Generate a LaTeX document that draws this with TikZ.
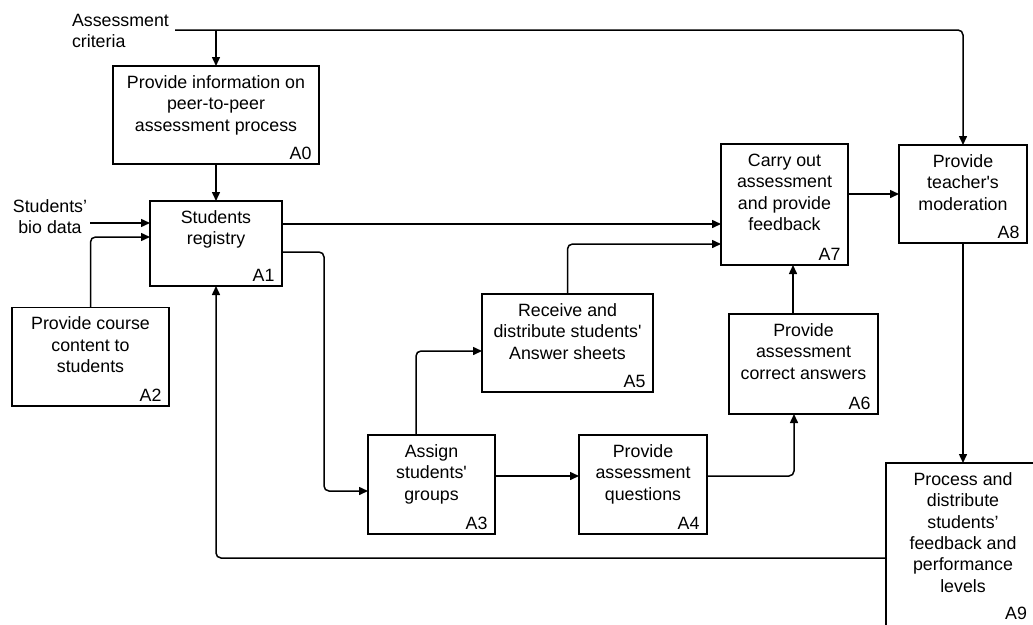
\documentclass[tikz,border=0pt]{standalone}
\usepackage{fontspec}
\setmainfont{Liberation Sans}[Ligatures=TeXOff]
\usetikzlibrary{arrows.meta,calc}

% activity box: name, centre x, centre y, width, height, text
\newcommand{\procframe}[6]{%
  \node[box, minimum width=#4pt, minimum height=#5pt] (#1) at (#2,#3) {};
  \node[boxtext] (#1-text) at ($(#1.north)+(0,7.6)$) {\strut #6};
}
\newcommand{\procbox}[6]{%
  \procframe{#1}{#2}{#3}{#4}{#5}{#6}
  \node[tag] (#1-tag) at ($(#1.south east)+(-7.5,-4.5)$) {#1};
}

\begin{document}
\begin{tikzpicture}[x=1pt,y=-1pt,
  every node/.style={font=\fontsize{17.8}{21.3}\selectfont, inner sep=0pt, outer sep=0pt},
  box/.style={draw, line width=1.5pt},
  boxtext/.style={anchor=north, align=center},
  tag/.style={anchor=base east},
  flow/.style={line width=1.5pt, -{Triangle[length=9pt,width=8pt]}},
  elbow/.style={rounded corners=5pt}]
\clip (0,0) rectangle (1033,624);
\fill[white] (0,0) rectangle (1033,624);

% activities
\procbox{A0}{216}{115}{206}{98}{Provide information on\\peer-to-peer\\assessment process}
\procbox{A1}{216}{243.5}{132}{85}{Students\\registry}
\procbox{A2}{90.5}{356.5}{157}{98.5}{Provide course\\content to\\students}
\procbox{A3}{431.5}{484.5}{127}{99}{Assign\\students'\\groups}
\procbox{A4}{643}{484.5}{128}{99}{Provide\\assessment\\questions}
\procbox{A5}{567.5}{343}{171}{98}{Receive and\\distribute students'\\Answer sheets}
\procbox{A6}{803.5}{364}{149}{100}{Provide\\assessment\\correct answers}
\procbox{A7}{784.5}{204.5}{127}{121}{Carry out\\assessment\\and provide\\feedback}
\procbox{A8}{963}{194}{128}{98}{Provide\\teacher's\\moderation}
% the last box runs past the right and bottom edges
\procframe{A9}{963}{547.5}{154}{169}{Process and\\distribute\\students’\\feedback and\\performance\\levels}
\node[tag] (A9-tag) at (1027,619) {A9};

% external inputs
\node[anchor=north west, align=left] (crit) at (72,11.6) {\strut Assessment\\criteria};
\node[anchor=north, align=center] (bio) at (50,197.4) {\strut Students’\\bio data};
\coordinate (critend) at (175,30);
\coordinate (bioend) at (90,223);

% controls from the assessment criteria
\draw[flow, elbow] (critend) -| (A8.north);
\draw[flow] (A0.north |- critend) -- (A0.north);

% registry inputs
\draw[flow] (A0.south) -- (A1.north);
\draw[flow] (bioend) -- (A1.west |- bioend);
\draw[flow, elbow] (A2.north) |- ($(A1.north west)+(0,36)$);

% registry outputs
\draw[flow] ($(A1.north east)+(0,23)$) -- ($(A7.north west)+(0,80)$);
\draw[flow, elbow] ($(A1.north east)+(0,51)$) -| ($(A3.north west)+(-44,56)$) -- ($(A3.north west)+(0,56)$);

% grouping, questions and answers
\draw[flow, elbow] ($(A3.north west)+(48,0)$) |- ($(A5.north west)+(0,57)$);
\draw[flow] ($(A3.north east)+(0,41)$) -- ($(A4.north west)+(0,41)$);
\draw[flow, elbow] ($(A4.north east)+(0,41)$) -| ($(A6.south west)+(65,0)$);
\draw[flow] ($(A6.north west)+(64,0)$) -- ($(A7.south west)+(72,0)$);
\draw[flow, elbow] (A5.north) |- ($(A7.north west)+(0,100)$);

% assessment, moderation and feedback
\draw[flow] ($(A7.north east)+(0,50)$) -- (A8.west);
\draw[flow] (A8.south) -- (A9.north);
\draw[flow, elbow] ($(A9.north west)+(0,95)$) -| (A1.south);
\end{tikzpicture}
\end{document}
